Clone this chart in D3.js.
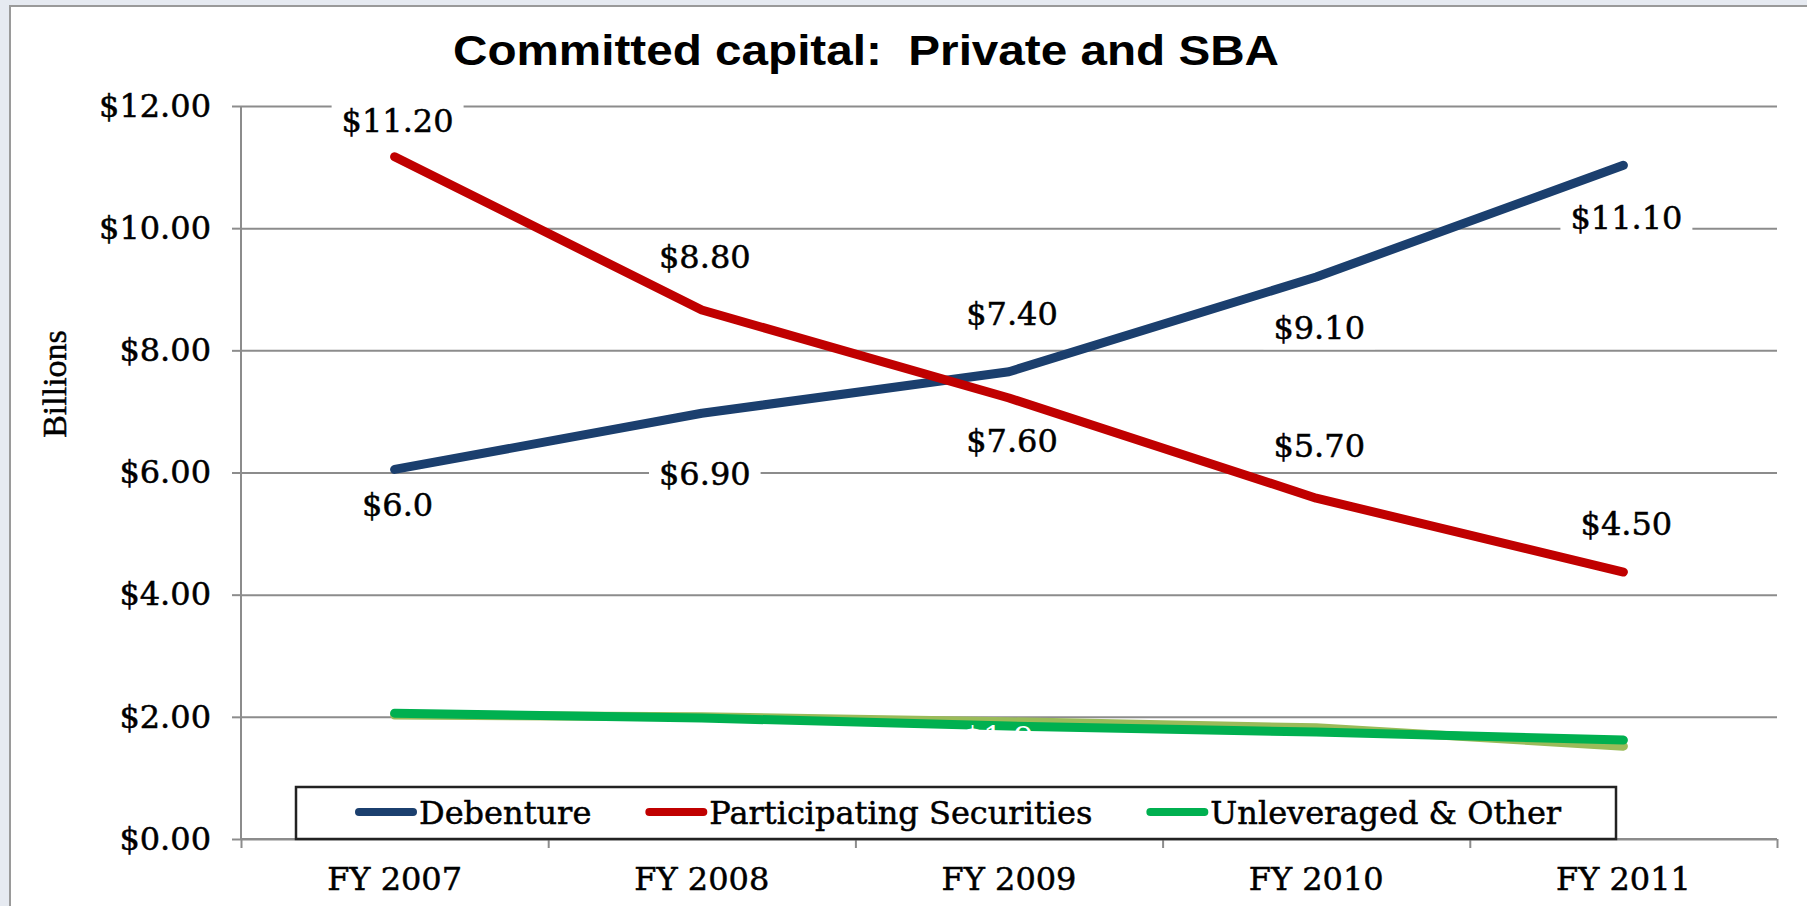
<!DOCTYPE html>
<html>
<head>
<meta charset="utf-8">
<script src="https://cdn.jsdelivr.net/npm/d3@7/dist/d3.min.js"></script>
<style>
  body { margin: 0; background: #e6eaf1; }
  svg { display: block; }
  .serif { font-family: 'DejaVu Serif', serif; font-size: 32px; stroke: #000; stroke-width: 0.5px; }
</style>
</head>
<body>
<svg id="chart" width="1807" height="906"></svg>
<script>
// values (billions of dollars)
const years = ["FY 2007", "FY 2008", "FY 2009", "FY 2010", "FY 2011"];
const debenture = [6.05, 6.97, 7.65, 9.2, 11.03];
const participating = [11.17, 8.66, 7.22, 5.58, 4.37];
const unleveraged = [2.06, 1.98, 1.85, 1.75, 1.62];
const unleveragedBehind = [2.03, 2.0, 1.92, 1.82, 1.52];

// data labels as printed, and the value height where each one sits
const debentureLabels = ["$6.0", "$6.90", "$7.40", "$9.10", "$11.10"];
const debentureLabelAt = [5.47, 5.98, 8.61, 8.37, 10.18];
const participatingLabels = ["$11.20", "$8.80", "$7.60", "$5.70", "$4.50"];
const participatingLabelAt = [11.77, 9.54, 6.52, 6.45, 5.16];
const unleveragedLabels = [null, null, "$1.9", null, null];
const unleveragedLabelAt = [null, null, 1.67, null, null];

const yTicks = [0, 2, 4, 6, 8, 10, 12];
const legendNames = ["Debenture", "Participating Securities", "Unleveraged & Other"];

const colors = {
  deb: "#1b3f6e",
  part: "#c00000",
  unlev: "#00b050",
  behind: "#9bbb59"
};

const svg = d3.select("#chart");

// slide background + chart frame
svg.append("rect").attr("width", 1807).attr("height", 906).attr("fill", "#e6eaf1");
svg.append("rect")
  .attr("x", 10).attr("y", 6).attr("width", 1820).attr("height", 920)
  .attr("fill", "#ffffff").attr("stroke", "#9a9a9a").attr("stroke-width", 2);

const plotL = 241, plotR = 1777, plotT = 106, plotB = 839;

const x = d3.scaleBand().domain(years).range([plotL, plotR]);
const cx = d => x(d) + x.bandwidth() / 2;
const y = d3.scaleLinear().domain([0, 12]).range([plotB, plotT]);

// title
svg.append("text")
  .attr("x", 866).attr("y", 65)
  .attr("text-anchor", "middle")
  .attr("font-family", "'Liberation Sans', Arial, sans-serif")
  .attr("font-weight", "bold")
  .attr("font-size", 43)
  .attr("textLength", 826)
  .attr("lengthAdjust", "spacingAndGlyphs")
  .style("white-space", "pre")
  .text("Committed capital:  Private and SBA");

// gridlines
const grid = svg.append("g").attr("transform", `translate(${plotL},0)`)
  .call(d3.axisLeft(y).tickValues(yTicks).tickSize(-(plotR - plotL)).tickFormat(""));
grid.select(".domain").remove();
grid.selectAll("line").attr("stroke", "#8c8c8c").attr("stroke-width", 2);

// y axis
const yAxis = svg.append("g").attr("transform", `translate(${plotL},0)`)
  .call(d3.axisLeft(y).tickValues(yTicks).tickSize(9).tickPadding(21)
    .tickFormat(d => "$" + d.toFixed(2)));
yAxis.select(".domain").attr("stroke", "#8c8c8c").attr("stroke-width", 2)
  .attr("d", `M0,${plotT}V${plotB}`);
yAxis.selectAll("line").attr("stroke", "#8c8c8c").attr("stroke-width", 2);
yAxis.selectAll("text").attr("class", "serif").attr("font-family", null).attr("font-size", null).attr("fill", "#000");

// x axis: tick marks on category boundaries, labels in the middle
const xEdge = d3.scaleLinear().domain([0, years.length]).range([plotL, plotR]);
const xAxis = svg.append("g").attr("transform", `translate(0,${plotB})`)
  .call(d3.axisBottom(xEdge).ticks(years.length).tickSize(9).tickFormat(""));
xAxis.select(".domain").attr("stroke", "#8c8c8c").attr("stroke-width", 2)
  .attr("d", `M${plotL},0H${plotR}`);
xAxis.selectAll("line").attr("stroke", "#8c8c8c").attr("stroke-width", 2);

svg.append("g").selectAll("text").data(years).join("text")
  .attr("class", "serif")
  .attr("x", d => cx(d)).attr("y", 890)
  .attr("text-anchor", "middle")
  .text(d => d);

// axis title
svg.append("text")
  .attr("transform", "translate(66,384) rotate(-90)")
  .attr("text-anchor", "middle")
  .attr("font-family", "'Liberation Serif', 'Times New Roman', serif")
  .attr("font-size", 34)
  .attr("stroke", "#000").attr("stroke-width", 0.5)
  .text("Billions");

function labelRows(labels, at) {
  return labels.map((t, i) => ({ t, v: at[i], year: years[i] })).filter(d => d.t);
}
const blackLabels = labelRows(debentureLabels, debentureLabelAt)
  .concat(labelRows(participatingLabels, participatingLabelAt));

// label backgrounds sit over the gridlines, under the lines
const bgLayer = svg.append("g");
const lineLayer = svg.append("g");
const textLayer = svg.append("g");

// series lines
const line = d3.line().x((d, i) => cx(years[i])).y(d => y(d));
[
  [unleveragedBehind, colors.behind],
  [debenture, colors.deb],
  [participating, colors.part],
  [unleveraged, colors.unlev]
].forEach(([vals, c]) => {
  lineLayer.append("path")
    .attr("d", line(vals))
    .attr("fill", "none")
    .attr("stroke", c)
    .attr("stroke-width", 9)
    .attr("stroke-linecap", "round")
    .attr("stroke-linejoin", "round");
});

// data labels
const lbl = textLayer.selectAll("text.lbl").data(blackLabels).join("text")
  .attr("class", "lbl serif")
  .attr("x", d => cx(d.year) + 3)
  .attr("y", d => y(d.v))
  .attr("dy", "0.36em")
  .attr("text-anchor", "middle")
  .attr("fill", "#000")
  .text(d => d.t);

lbl.each(function () {
  const b = this.getBBox();
  bgLayer.append("rect")
    .attr("x", b.x - 10).attr("y", b.y - 2)
    .attr("width", b.width + 20).attr("height", b.height + 4)
    .attr("fill", "#fff");
});

textLayer.selectAll("text.wlbl").data(labelRows(unleveragedLabels, unleveragedLabelAt)).join("text")
  .attr("class", "wlbl")
  .attr("x", d => cx(d.year) - 11)
  .attr("y", d => y(d.v))
  .attr("dy", "0.36em")
  .attr("text-anchor", "middle")
  .attr("font-family", "'DejaVu Serif', serif").attr("font-size", 32)
  .attr("fill", "#fff")
  .text(d => d.t);

// legend
const legend = svg.append("g");
legend.append("rect")
  .attr("x", 296).attr("y", 787).attr("width", 1320).attr("height", 52)
  .attr("fill", "#fff").attr("stroke", "#222").attr("stroke-width", 2.5);

const legendColors = [colors.deb, colors.part, colors.unlev];
let lx = 359;
legendNames.forEach((name, i) => {
  legend.append("line")
    .attr("x1", lx).attr("x2", lx + 54).attr("y1", 812).attr("y2", 812)
    .attr("stroke", legendColors[i]).attr("stroke-width", 8).attr("stroke-linecap", "round");
  const t = legend.append("text")
    .attr("class", "serif")
    .attr("x", lx + 60).attr("y", 812).attr("dy", "0.36em")
    .text(name);
  lx += 60 + t.node().getComputedTextLength() + 58;
});
</script>
</body>
</html>
